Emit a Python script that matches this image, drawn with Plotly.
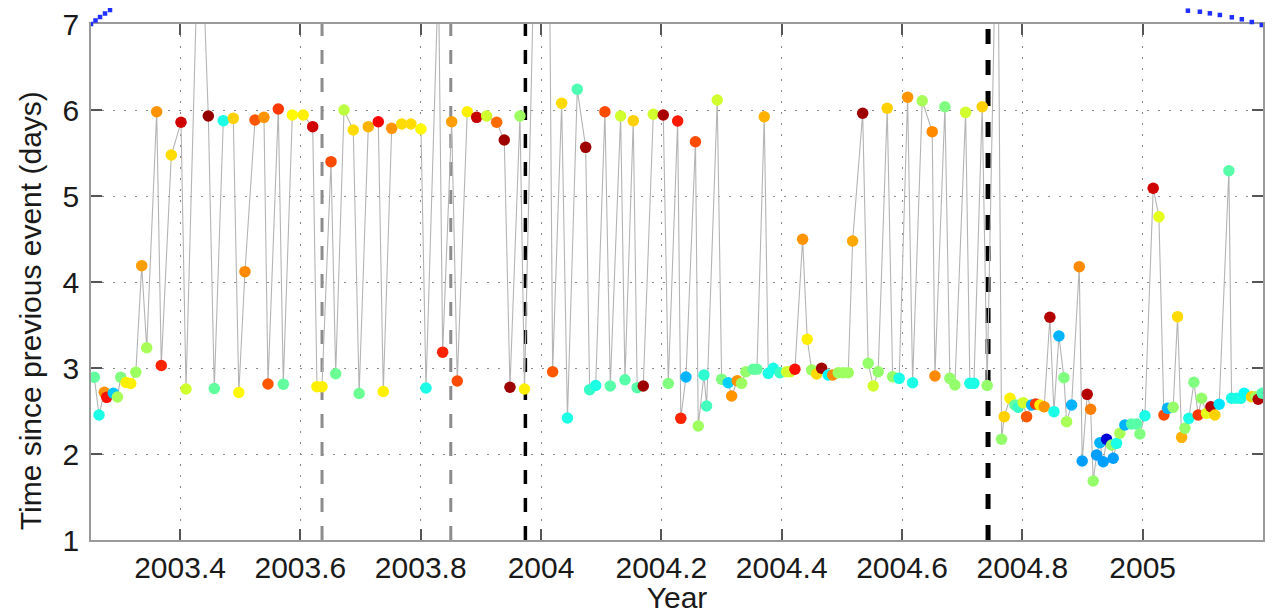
import plotly.graph_objects as go

# ---- data ----
years = [
    2003.2575, 2003.2653, 2003.2741, 2003.2781, 2003.2891, 2003.2960, 2003.3014, 2003.3102, 2003.3180, 2003.3265,
    2003.3363, 2003.3446, 2003.3612, 2003.3688, 2003.3855, 2003.4016, 2003.4099, 2003.4327, 2003.4470, 2003.4569,
    2003.4719, 2003.4885, 2003.4977, 2003.5079, 2003.5246, 2003.5395, 2003.5462, 2003.5633, 2003.5716, 2003.5866,
    2003.6048, 2003.6205, 2003.6276, 2003.6359, 2003.6509, 2003.6587, 2003.6725, 2003.6879, 2003.6977, 2003.7129,
    2003.7295, 2003.7378, 2003.7518, 2003.7684, 2003.7838, 2003.8005, 2003.8088, 2003.8295, 2003.8365, 2003.8515,
    2003.8608, 2003.8774, 2003.8930, 2003.9096, 2003.9263, 2003.9389, 2003.9484, 2003.9650, 2003.9725, 2004.0075,
    2004.0193, 2004.0343, 2004.0439, 2004.0602, 2004.0742, 2004.0808, 2004.0908, 2004.1062, 2004.1151, 2004.1323,
    2004.1395, 2004.1533, 2004.1598, 2004.1699, 2004.1866, 2004.2032, 2004.2115, 2004.2271, 2004.2323, 2004.2409,
    2004.2567, 2004.2613, 2004.2708, 2004.2752, 2004.2929, 2004.3002, 2004.3112, 2004.3168, 2004.3261, 2004.3334,
    2004.3406, 2004.3527, 2004.3589, 2004.3710, 2004.3777, 2004.3860, 2004.3971, 2004.4082, 2004.4145, 2004.4220,
    2004.4348, 2004.4425, 2004.4498, 2004.4581, 2004.4664, 2004.4774, 2004.4847, 2004.4940, 2004.5023, 2004.5106,
    2004.5179, 2004.5346, 2004.5438, 2004.5521, 2004.5604, 2004.5754, 2004.5844, 2004.5953, 2004.6093, 2004.6176,
    2004.6336, 2004.6502, 2004.6547, 2004.6713, 2004.6796, 2004.6879, 2004.7057, 2004.7128, 2004.7195, 2004.7333,
    2004.7415, 2004.7586, 2004.7655, 2004.7699, 2004.7794, 2004.7877, 2004.7931, 2004.8014, 2004.8071, 2004.8154,
    2004.8221, 2004.8292, 2004.8363, 2004.8458, 2004.8525, 2004.8608, 2004.8691, 2004.8736, 2004.8819, 2004.8946,
    2004.8995, 2004.9078, 2004.9135, 2004.9178, 2004.9234, 2004.9289, 2004.9344, 2004.9400, 2004.9483, 2004.9510,
    2004.9566, 2004.9621, 2004.9704, 2004.9815, 2004.9898, 2004.9954, 2005.0037, 2005.0175, 2005.0270, 2005.0353,
    2005.0414, 2005.0507, 2005.0580, 2005.0647, 2005.0702, 2005.0768, 2005.0851, 2005.0923, 2005.0979, 2005.1062,
    2005.1134, 2005.1200, 2005.1272, 2005.1433, 2005.1478, 2005.1561, 2005.1632, 2005.1687, 2005.1810, 2005.1877,
    2005.1920, 2005.1987,
]
days = [
    2.892, 2.453, 2.717, 2.659, 2.706, 2.663, 2.892, 2.831, 2.820, 2.950,
    4.190, 3.235, 5.980, 3.029, 5.477, 5.857, 2.756, 8.700, 5.930, 2.762,
    5.876, 5.903, 2.715, 4.120, 5.884, 5.915, 2.814, 6.012, 2.812, 5.942,
    5.942, 5.806, 2.783, 2.783, 5.399, 2.933, 6.000, 5.767, 2.703, 5.806,
    5.864, 2.727, 5.787, 5.837, 5.837, 5.779, 2.767, 7.600, 3.184, 5.864,
    2.849, 5.980, 5.915, 5.930, 5.857, 5.651, 2.776, 5.930, 2.756, 13.70,
    2.957, 6.078, 2.419, 6.241, 5.566, 2.748, 2.797, 5.980, 2.791, 5.930,
    2.864, 5.876, 2.771, 2.791, 5.950, 5.942, 2.820, 5.872, 2.415, 2.895,
    5.631, 2.326, 2.919, 2.558, 6.116, 2.869, 2.829, 2.674, 2.852, 2.822,
    2.957, 2.985, 2.985, 5.922, 2.938, 2.997, 2.945, 2.957, 2.957, 2.985,
    4.497, 3.334, 2.977, 2.930, 2.997, 2.919, 2.919, 2.945, 2.945, 2.945,
    4.477, 5.962, 3.055, 2.791, 2.957, 6.020, 2.899, 2.880, 6.148, 2.829,
    6.108, 5.748, 2.907, 6.038, 2.880, 2.802, 5.973, 2.822, 2.822, 6.038,
    2.797, 9.000, 2.171, 2.434, 2.648, 2.570, 2.543, 2.597, 2.434, 2.570,
    2.581, 2.570, 2.550, 3.590, 2.492, 3.372, 2.887, 2.376, 2.570, 4.178,
    1.919, 2.694, 2.520, 1.686, 1.988, 2.131, 1.910, 2.171, 2.105, 1.950,
    2.124, 2.241, 2.337, 2.349, 2.349, 2.233, 2.445, 5.090, 4.759, 2.453,
    2.531, 2.543, 3.597, 2.194, 2.299, 2.415, 2.834, 2.453, 2.648, 2.473,
    2.550, 2.453, 2.578, 5.294, 2.648, 2.648, 2.648, 2.706, 2.666, 2.666,
    2.636, 2.706,
]
# colour value of each point on the jet scale (0 = dark blue, 1 = dark red)
colour_value = [
    0.47, 0.40, 0.73, 0.86, 0.32, 0.54, 0.50, 0.64, 0.64, 0.53,
    0.72, 0.54, 0.73, 0.84, 0.66, 0.92, 0.58, 0.50, 0.98, 0.47,
    0.40, 0.67, 0.63, 0.74, 0.79, 0.73, 0.79, 0.82, 0.47, 0.63,
    0.64, 0.92, 0.64, 0.64, 0.80, 0.48, 0.56, 0.66, 0.48, 0.70,
    0.88, 0.64, 0.73, 0.66, 0.66, 0.63, 0.40, 0.50, 0.84, 0.72,
    0.80, 0.64, 0.93, 0.58, 0.77, 0.97, 0.97, 0.53, 0.64, 0.50,
    0.79, 0.66, 0.40, 0.45, 0.97, 0.43, 0.40, 0.80, 0.46, 0.58,
    0.46, 0.67, 0.46, 0.97, 0.58, 0.96, 0.50, 0.85, 0.84, 0.30,
    0.80, 0.53, 0.42, 0.44, 0.58, 0.50, 0.33, 0.73, 0.73, 0.53,
    0.52, 0.47, 0.47, 0.70, 0.40, 0.40, 0.43, 0.58, 0.58, 0.86,
    0.73, 0.64, 0.53, 0.66, 0.97, 0.38, 0.74, 0.53, 0.53, 0.53,
    0.71, 0.97, 0.52, 0.58, 0.52, 0.67, 0.52, 0.40, 0.73, 0.40,
    0.54, 0.74, 0.74, 0.50, 0.52, 0.52, 0.58, 0.40, 0.40, 0.67,
    0.52, 0.50, 0.52, 0.67, 0.64, 0.47, 0.43, 0.58, 0.79, 0.30,
    0.82, 0.64, 0.73, 0.95, 0.40, 0.30, 0.50, 0.54, 0.30, 0.74,
    0.28, 0.95, 0.75, 0.52, 0.28, 0.30, 0.28, 0.08, 0.52, 0.28,
    0.40, 0.54, 0.30, 0.46, 0.46, 0.50, 0.40, 0.92, 0.60, 0.80,
    0.30, 0.52, 0.66, 0.70, 0.52, 0.40, 0.50, 0.82, 0.52, 0.60,
    0.95, 0.67, 0.35, 0.46, 0.40, 0.40, 0.40, 0.38, 0.67, 0.54,
    0.95, 0.45,
]

# dotted blue model curve leaving the top of the axes at both ends
curve_left_x = [2003.2520, 2003.2595, 2003.2670, 2003.2753, 2003.2836]
curve_left_y = [7.000, 7.041, 7.081, 7.122, 7.163]
curve_right_x = [2005.0752, 2005.0951, 2005.1117, 2005.1283, 2005.1482, 2005.1648, 2005.1814, 2005.1980]
curve_right_y = [7.155, 7.143, 7.124, 7.105, 7.078, 7.055, 7.023, 6.988]

# vertical event markers
grey_events = [2003.636, 2003.850]
black_events = [2003.974]
major_events = [2004.743]

x_range = [2003.252, 2005.2]
y_range = [1, 7]
x_tickvals = [2003.4, 2003.6, 2003.8, 2004.0, 2004.2, 2004.4, 2004.6, 2004.8, 2005.0]
x_ticktext = ["2003.4", "2003.6", "2003.8", "2004", "2004.2", "2004.4", "2004.6", "2004.8", "2005"]
y_tickvals = [1, 2, 3, 4, 5, 6, 7]

jet = [[0.0, "rgb(0,0,143)"], [0.125, "rgb(0,0,255)"], [0.375, "rgb(0,255,255)"],
       [0.625, "rgb(255,255,0)"], [0.875, "rgb(255,0,0)"], [1.0, "rgb(128,0,0)"]]

# The page body has an 8px default margin, so the figure is sized to fill the
# rest of the 1273x614 window.
PAGE_OFFSET = 8
W, H = 1273 - PAGE_OFFSET, 614 - PAGE_OFFSET
ML, MR, MB = 91 - PAGE_OFFSET, 10, 74
MT_AX = 24 - PAGE_OFFSET
region_h = H - MB
main_top = (region_h - MT_AX) / region_h
y2_range = [y_range[0], y_range[0] + (y_range[1] - y_range[0]) / main_top]

fig = go.Figure()

# event lines (drawn first, beneath the data)
event_styles = [(grey_events, "#8c8c8c", 3, "14px,14px"),
                (black_events, "#000000", 3.5, "14px,14px"),
                (major_events, "#000000", 5, "15px,16px")]
for evs, col, wid, dash in event_styles:
    for v in evs:
        fig.add_trace(go.Scatter(
            x=[v, v], y=y_range, mode="lines",
            line=dict(color=col, width=wid, dash=dash),
            showlegend=False, hoverinfo="skip",
        ))

fig.add_trace(go.Scatter(
    x=years, y=days, mode="lines+markers",
    line=dict(color="#b4b4b4", width=1.1),
    marker=dict(size=11.5, color=colour_value, colorscale=jet, cmin=0, cmax=1,
                line=dict(width=0)),
    showlegend=False, hoverinfo="x+y",
))

for cx, cy in [(curve_left_x, curve_left_y), (curve_right_x, curve_right_y)]:
    fig.add_trace(go.Scatter(
        x=cx, y=cy, mode="markers", xaxis="x2", yaxis="y2",
        marker=dict(size=4.5, color="#1f2fff", symbol="square", line=dict(width=0)),
        showlegend=False, hoverinfo="skip",
    ))

font_family = "Liberation Sans, Arial, Helvetica, sans-serif"
axis_common = dict(
    showline=True, linecolor="#9a9a9a", linewidth=1.5, mirror="ticks",
    ticks="inside", ticklen=11, tickwidth=1.5, tickcolor="#555555",
    showgrid=True, gridcolor="#8a8a8a", gridwidth=1, griddash="2px,9px",
    zeroline=False, automargin=False, ticklabeloverflow="allow",
    tickfont=dict(family=font_family, size=30, color="#1a1a1a"),
)

fig.update_layout(
    width=W, height=H,
    margin=dict(l=ML, r=MR, t=0, b=MB),
    paper_bgcolor="white", plot_bgcolor="rgba(0,0,0,0)",
    font=dict(family=font_family, color="#1a1a1a"),
    xaxis=dict(range=x_range, tickvals=x_tickvals, ticktext=x_ticktext, domain=[0, 1],
               title=dict(text="Year", font=dict(size=30, family=font_family), standoff=11),
               ticklabelstandoff=0, **axis_common),
    yaxis=dict(range=y_range, tickvals=y_tickvals, domain=[0, main_top],
               ticklabelstandoff=4, **axis_common),
    xaxis2=dict(range=x_range, domain=[0, 1], anchor="y2", visible=False),
    yaxis2=dict(range=y2_range, domain=[0, 1], anchor="x2", visible=False),
    annotations=[dict(
        text="Time since previous event (days)", textangle=-90,
        xref="paper", yref="paper", x=0, y=0.43, xshift=-61,
        xanchor="center", yanchor="middle", showarrow=False,
        font=dict(size=30, family=font_family, color="#1a1a1a"),
    )],
)

fig.write_html("out.html")
